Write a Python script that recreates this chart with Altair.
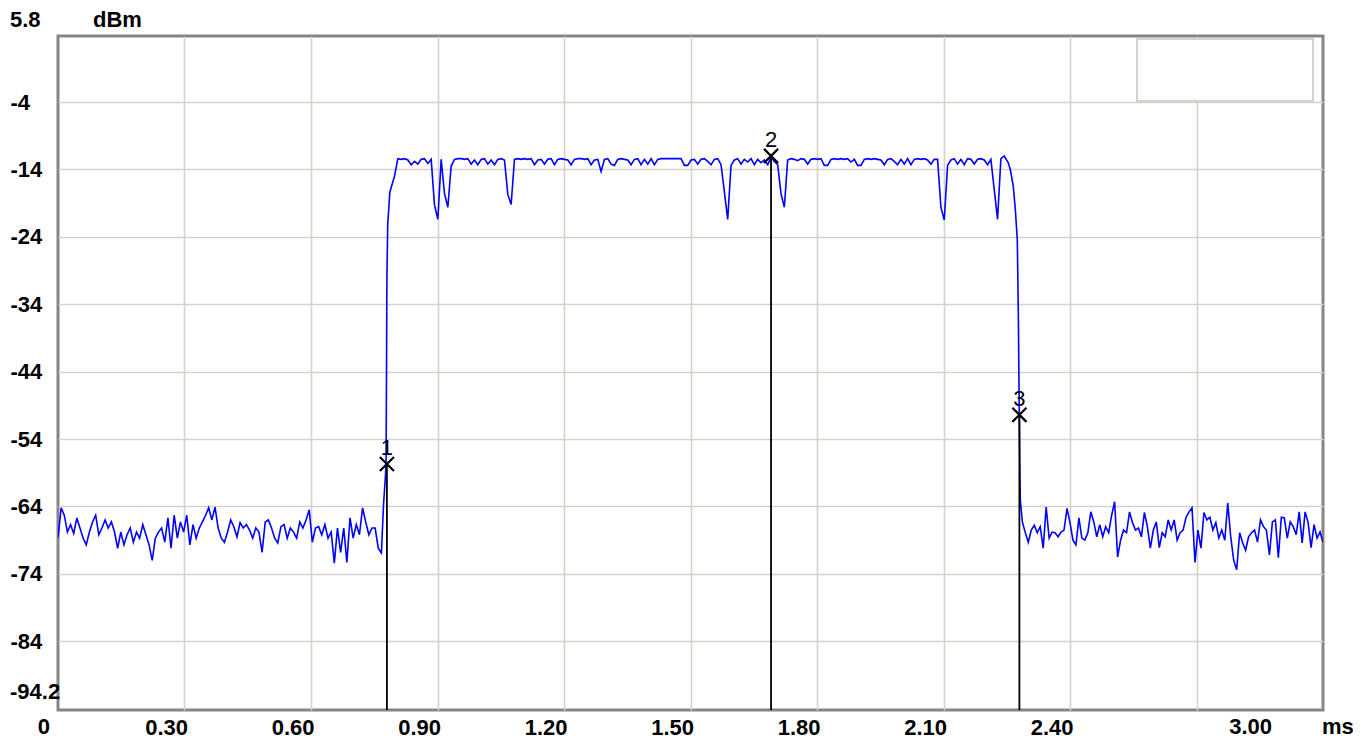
import altair as alt
import numpy as np
import pandas as pd

# ---------------- data ----------------
left_noise = [-68.7, -64.2, -65.3, -67.8, -66.7, -68.0, -65.7, -67.2, -68.7, -69.7,
              -67.8, -66.3, -65.3, -68.2, -67.2, -66.0, -67.2, -66.3, -67.8, -70.2,
              -67.8, -69.7, -68.2, -67.2, -69.3, -67.8, -68.7, -66.7, -68.2, -69.7,
              -72.0, -68.7, -67.8, -67.2, -69.3, -65.7, -70.2, -65.3, -68.7, -66.3,
              -67.8, -65.3, -69.7, -66.7, -68.7, -67.2, -66.3, -65.3, -64.2, -66.0,
              -64.1, -67.2, -68.7, -69.3, -67.8,
              -66.0, -67.0, -68.5, -66.4, -67.2, -66.7, -67.5, -68.7, -67.2, -67.8,
              -70.8, -66.3, -66.0, -67.2, -68.7, -69.4, -67.0, -66.7, -68.7, -67.2,
              -67.8, -68.7, -66.3, -67.2, -66.0, -64.5, -69.3, -67.2, -67.0, -68.2,
              -66.7, -68.7, -67.8, -72.4, -67.2, -70.8, -67.2, -72.3, -65.7, -68.7,
              -66.7, -68.2, -64.2, -66.3, -68.2, -67.2, -67.2, -70.2, -70.9]
left_t = (0.0, 0.767)

rise_t = [0.772, 0.776, 0.778, 0.779, 0.780, 0.782, 0.787, 0.791, 0.798]
rise_v = [-63.7, -60.0, -57.7, -45.0, -30.0, -22.1, -17.4, -16.5, -15.0]

plateau = [-12.4, -12.5, -12.4, -12.6, -13.3, -12.8, -13.2, -12.5, -12.4, -13.1, -12.5,
           -19.3, -21.4, -12.5, -17.6, -19.6, -13.5,
           -12.5, -12.4, -12.4, -12.5, -12.4, -13.2, -12.6, -13.3, -12.5, -12.4, -13.2,
           -12.6, -13.3, -12.5, -12.4, -12.6,
           -17.7, -19.2,
           -12.5, -12.4, -12.5, -12.4, -12.5, -12.4, -13.3, -12.6, -12.5, -13.2, -12.5,
           -12.4, -13.3, -12.5, -12.4, -12.5, -12.6, -13.3, -12.5, -12.4, -12.4, -12.5,
           -12.4, -13.3, -12.6, -12.5,
           -14.3,
           -12.5, -12.4, -13.2, -13.4, -12.5, -12.4, -12.5, -12.6, -13.3, -12.5, -12.4,
           -13.3, -12.5, -13.2, -12.4, -13.3, -12.5,
           -12.4, -12.4, -12.4, -12.4, -12.4, -12.4, -12.4,
           -13.4, -13.4,
           -12.6, -12.5, -13.2, -12.5, -12.4, -12.8, -13.3, -12.5, -12.4, -13.3,
           -17.3, -21.4,
           -13.4, -12.6, -12.4, -13.2, -12.5, -12.9, -12.4, -13.3, -12.5, -13.0, -12.6,
           -13.3, -12.2, -12.8, -13.3,
           -17.6, -19.6,
           -12.6, -12.4, -12.5, -12.7, -12.4, -12.5, -13.2, -12.5, -12.4, -12.5, -12.4,
           -13.4, -13.4, -12.5, -12.4, -12.5, -12.4, -12.5, -12.4, -12.9, -12.5, -13.4,
           -13.4, -12.5, -12.4, -12.5, -12.4, -12.5, -12.6, -13.3, -12.5, -12.4, -12.8,
           -13.3, -12.5, -13.2, -12.4, -13.3, -12.5, -12.4, -12.5, -12.4, -12.6, -13.2,
           -12.5, -12.5,
           -19.6, -21.5,
           -13.4, -12.6, -12.4, -13.2, -12.5, -13.3, -12.4, -12.5, -13.2, -12.5, -12.4,
           -12.6, -13.3, -12.5,
           -17.0, -21.4,
           -12.4, -12.0]
plateau_t = (0.806, 2.244)

fall_t = [2.2537, 2.2584, 2.2655, 2.2703, 2.2750, 2.2774, 2.2797, 2.2810, 2.2821]
fall_v = [-13.0, -14.0, -16.5, -19.9, -24.4, -35.0, -50.4, -58.0, -63.0]

right_noise = [-66.3, -67.9, -69.3, -67.5, -66.8, -67.9, -67.0, -70.2, -64.1, -68.7,
               -67.8, -67.9, -68.5, -67.8, -67.5, -64.3, -66.4, -69.0, -69.7, -65.7,
               -68.7, -69.0, -67.9, -64.8, -66.3, -68.5, -66.7, -68.5, -67.0, -67.9,
               -65.3, -63.3, -71.5, -69.0, -67.5, -67.9, -64.8, -66.4, -67.5, -67.2,
               -68.5, -64.9, -67.0, -70.2, -67.5, -66.3, -70.1, -67.9, -68.5, -66.0,
               -67.5,
               -66.0, -69.0, -67.9, -67.5, -65.6, -64.8, -64.2, -72.3, -67.5, -70.2,
               -64.9, -66.0, -65.6, -67.5, -66.4, -68.7, -67.5, -69.0, -63.5, -68.5,
               -72.0, -73.4, -67.9, -69.4, -70.5, -68.5, -67.9, -67.5, -69.3, -66.0,
               -67.0, -67.5, -71.2, -66.3, -66.0, -71.6, -65.6, -65.7, -68.7, -66.3,
               -67.0, -68.2, -64.8, -69.4, -64.8, -66.4, -70.1, -66.7, -68.7, -67.8,
               -69.3]
right_t = (2.287, 3.0)

marker_ids = ["1", "2", "3"]
marker_t = [0.780, 1.691, 2.280]
marker_v = [-57.7, -12.0, -50.4]

x_grid = [0.3, 0.6, 0.9, 1.2, 1.5, 1.8, 2.1, 2.4, 2.7]
y_grid = [-4, -14, -24, -34, -44, -54, -64, -74, -84]
x_domain = [0.0, 3.0]
y_domain = [-94.2, 5.8]

# ---------------- build the trace table ----------------
t_all = (list(np.linspace(left_t[0], left_t[1], len(left_noise))) + rise_t +
         list(np.linspace(plateau_t[0], plateau_t[1], len(plateau))) + fall_t +
         list(np.linspace(right_t[0], right_t[1], len(right_noise))))
v_all = left_noise + rise_v + plateau + fall_v + right_noise
trace = pd.DataFrame({"t": t_all, "v": v_all, "i": range(len(t_all))})
markers = pd.DataFrame({"id": marker_ids, "t": marker_t, "v": marker_v})

W, H = 1265, 674
FONT = "Liberation Sans"

xs = alt.Scale(domain=x_domain, nice=False, zero=False)
ys = alt.Scale(domain=y_domain, nice=False, zero=False)

x_axis = alt.Axis(values=x_grid, title=None, grid=True, ticks=False, tickSize=0, domain=False,
                  labelExpr="datum.value > 2.65 ? '' : format(datum.value, '.2f')",
                  labelAlign="right", labelOffset=3, labelBaseline="middle", labelPadding=17,
                  labelFont=FONT, labelFontSize=22, labelFontWeight="bold", labelColor="black",
                  gridColor="#d6d2ca", gridWidth=1.6)
y_axis = alt.Axis(values=y_grid, title=None, grid=True, ticks=False, tickSize=0, domain=False,
                  labelExpr="'' + datum.value",
                  labelAlign="left", labelBaseline="middle", labelPadding=48,
                  labelFont=FONT, labelFontSize=22, labelFontWeight="bold", labelColor="black",
                  gridColor="#d6d2ca", gridWidth=1.6)

legend_box = alt.Chart(alt.Data(values=[{"a": 1}])).mark_rect(
    fill="white", stroke="#d6d2ca", strokeWidth=2
).encode(x=alt.value(1079), x2=alt.value(1255), y=alt.value(3), y2=alt.value(65))

line = alt.Chart(trace).mark_line(color="#0000ff", strokeWidth=1.6, clip=True).encode(
    x=alt.X("t:Q", scale=xs, axis=x_axis),
    y=alt.Y("v:Q", scale=ys, axis=y_axis),
    order="i:Q",
)

rules = alt.Chart(markers).mark_rule(color="black", strokeWidth=1.8).encode(
    x=alt.X("t:Q", scale=xs), y=alt.Y("v:Q", scale=ys), y2=alt.value(H)
)

xmarks = alt.Chart(markers).mark_point(
    shape="M-1,-1L1,1M-1,1L1,-1", size=200, filled=False, color="black",
    strokeWidth=2.2, opacity=1
).encode(x=alt.X("t:Q", scale=xs), y=alt.Y("v:Q", scale=ys))

mlabels = alt.Chart(markers).mark_text(
    font=FONT, fontSize=22, color="black", dy=-16, baseline="middle", align="center"
).encode(x=alt.X("t:Q", scale=xs), y=alt.Y("v:Q", scale=ys), text="id:N")

lbl_kw = dict(font=FONT, fontSize=22, fontWeight="bold", color="black", baseline="middle")
one = alt.Data(values=[{"a": 1}])

x0_lbl = alt.Chart(one).mark_text(align="right", dx=-8, **lbl_kw).encode(
    x=alt.datum(0.0, scale=xs), y=alt.value(H + 17), text=alt.value("0"))
x3_lbl = alt.Chart(one).mark_text(align="right", dx=-51, **lbl_kw).encode(
    x=alt.datum(3.0, scale=xs), y=alt.value(H + 17), text=alt.value("3.00"))
ms_lbl = alt.Chart(one).mark_text(align="left", dx=-1, **lbl_kw).encode(
    x=alt.datum(3.0, scale=xs), y=alt.value(H + 17), text=alt.value("ms"))
ytop_lbl = alt.Chart(one).mark_text(align="left", dy=-16, **lbl_kw).encode(
    x=alt.value(-48), y=alt.datum(5.8, scale=ys), text=alt.value("5.8"))
ybot_lbl = alt.Chart(one).mark_text(align="left", dy=-18, **lbl_kw).encode(
    x=alt.value(-48), y=alt.datum(-94.2, scale=ys), text=alt.value("-94.2"))
unit_lbl = alt.Chart(one).mark_text(align="left", dy=-16, **lbl_kw).encode(
    x=alt.value(35), y=alt.datum(5.8, scale=ys), text=alt.value("dBm"))

chart = alt.layer(
    legend_box, line, rules, xmarks, mlabels,
    x0_lbl, x3_lbl, ms_lbl, ytop_lbl, ybot_lbl, unit_lbl
).properties(
    width=W, height=H,
    padding={"left": 50, "top": 28, "right": 30, "bottom": 32},
    autosize=alt.AutoSizeParams(type="none"),
    background="white",
).configure_view(
    stroke="#858585", strokeWidth=3
)

chart.save("out.html", embed_options={"renderer": "svg", "actions": False})
